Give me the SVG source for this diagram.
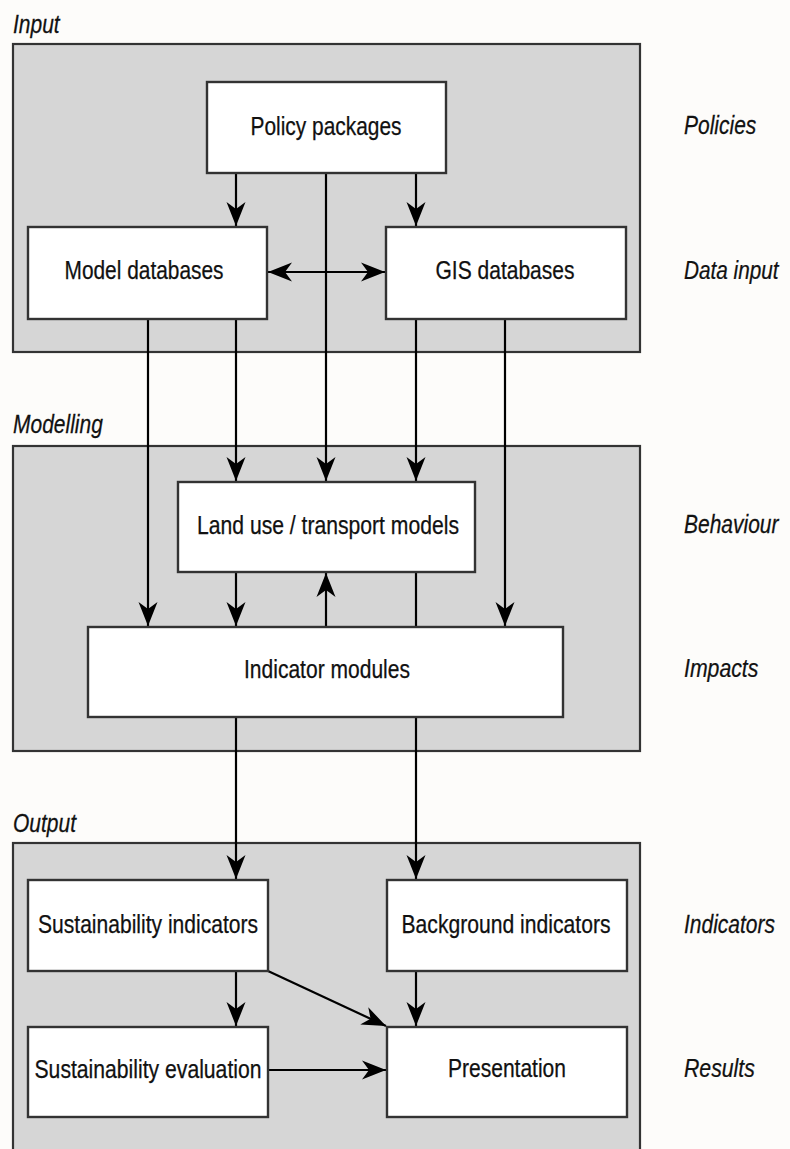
<svg xmlns="http://www.w3.org/2000/svg" width="790" height="1149" viewBox="0 0 790 1149">
  <style>
    .panel { fill: #d6d6d6; stroke: #333333; stroke-width: 2.2; }
    .box { fill: #ffffff; stroke: #333333; stroke-width: 2.4; }
    .lbl { font-family: "Liberation Sans", Arial, sans-serif; font-size: 25px; fill: #111111; stroke: #111111; stroke-width: 0.25; }
    .side { font-family: "Liberation Sans", Arial, sans-serif; font-size: 25px; font-style: italic; fill: #111111; stroke: #111111; stroke-width: 0.25; }
    .conn { fill: none; stroke: #000; stroke-width: 2.2; }
  </style>
  <defs>
    <marker id="arrow" markerUnits="userSpaceOnUse" markerWidth="25" markerHeight="20" refX="24" refY="9.5" orient="auto-start-reverse" viewBox="0 0 25 19">
      <path d="M0,0 L24,9.5 L0,19 L7,9.5 Z" fill="#000"/>
    </marker>
  </defs>

  <rect width="790" height="1149" fill="#fdfcfa"/>

  <!-- stage panels -->
  <g id="panel-input">
    <rect class="panel" x="13" y="44" width="627" height="308"/>
    <text class="side" transform="translate(13,33) scale(0.84,1)">Input</text>
  </g>
  <g id="panel-modelling">
    <rect class="panel" x="13" y="446" width="627" height="305"/>
    <text class="side" transform="translate(13,433) scale(0.84,1)">Modelling</text>
  </g>
  <g id="panel-output">
    <rect class="panel" x="13" y="843" width="627" height="320"/>
    <text class="side" transform="translate(13,832) scale(0.84,1)">Output</text>
  </g>

  <!-- connectors -->
  <g id="connectors">
    <line class="conn" x1="236" y1="173" x2="236" y2="226" marker-end="url(#arrow)"/>
    <line class="conn" x1="416" y1="173" x2="416" y2="226" marker-end="url(#arrow)"/>
    <line class="conn" x1="326" y1="173" x2="326" y2="481" marker-end="url(#arrow)"/>
    <line class="conn" x1="268" y1="272" x2="385" y2="272" marker-start="url(#arrow)" marker-end="url(#arrow)"/>
    <line class="conn" x1="148" y1="319" x2="148" y2="626" marker-end="url(#arrow)"/>
    <line class="conn" x1="236" y1="319" x2="236" y2="481" marker-end="url(#arrow)"/>
    <line class="conn" x1="416" y1="319" x2="416" y2="481" marker-end="url(#arrow)"/>
    <line class="conn" x1="505" y1="319" x2="505" y2="626" marker-end="url(#arrow)"/>
    <line class="conn" x1="236" y1="572" x2="236" y2="626" marker-end="url(#arrow)"/>
    <line class="conn" x1="326" y1="627" x2="326" y2="573" marker-end="url(#arrow)"/>
    <line class="conn" x1="416" y1="572" x2="416" y2="627"/>
    <line class="conn" x1="236" y1="717" x2="236" y2="879" marker-end="url(#arrow)"/>
    <line class="conn" x1="416" y1="717" x2="416" y2="879" marker-end="url(#arrow)"/>
    <line class="conn" x1="236" y1="971" x2="236" y2="1026" marker-end="url(#arrow)"/>
    <line class="conn" x1="268" y1="971" x2="386" y2="1026" marker-end="url(#arrow)"/>
    <line class="conn" x1="416" y1="971" x2="416" y2="1026" marker-end="url(#arrow)"/>
    <line class="conn" x1="268" y1="1070" x2="386" y2="1070" marker-end="url(#arrow)"/>
  </g>

  <!-- nodes -->
  <g id="policy-packages">
    <rect class="box" x="207" y="82" width="239" height="91"/>
    <text class="lbl" x="326" y="135" text-anchor="middle" textLength="151" lengthAdjust="spacingAndGlyphs">Policy packages</text>
  </g>
  <g id="model-databases">
    <rect class="box" x="28" y="227" width="239" height="92"/>
    <text class="lbl" x="144" y="279" text-anchor="middle" textLength="159" lengthAdjust="spacingAndGlyphs">Model databases</text>
  </g>
  <g id="gis-databases">
    <rect class="box" x="386" y="227" width="240" height="92"/>
    <text class="lbl" x="505" y="279" text-anchor="middle" textLength="139" lengthAdjust="spacingAndGlyphs">GIS databases</text>
  </g>
  <g id="land-use-transport-models">
    <rect class="box" x="178" y="482" width="297" height="90"/>
    <text class="lbl" x="328" y="534" text-anchor="middle" textLength="262" lengthAdjust="spacingAndGlyphs">Land use / transport models</text>
  </g>
  <g id="indicator-modules">
    <rect class="box" x="88" y="627" width="475" height="90"/>
    <text class="lbl" x="327" y="678" text-anchor="middle" textLength="166" lengthAdjust="spacingAndGlyphs">Indicator modules</text>
  </g>
  <g id="sustainability-indicators">
    <rect class="box" x="28" y="880" width="240" height="91"/>
    <text class="lbl" x="148" y="933" text-anchor="middle" textLength="220" lengthAdjust="spacingAndGlyphs">Sustainability indicators</text>
  </g>
  <g id="background-indicators">
    <rect class="box" x="387" y="880" width="240" height="91"/>
    <text class="lbl" x="506" y="933" text-anchor="middle" textLength="209" lengthAdjust="spacingAndGlyphs">Background indicators</text>
  </g>
  <g id="sustainability-evaluation">
    <rect class="box" x="28" y="1027" width="240" height="90"/>
    <text class="lbl" x="148" y="1078" text-anchor="middle" textLength="227" lengthAdjust="spacingAndGlyphs">Sustainability evaluation</text>
  </g>
  <g id="presentation">
    <rect class="box" x="387" y="1027" width="240" height="90"/>
    <text class="lbl" x="507" y="1077" text-anchor="middle" textLength="118" lengthAdjust="spacingAndGlyphs">Presentation</text>
  </g>

  <!-- level captions -->
  <g id="captions">
    <text class="side" transform="translate(684,134) scale(0.84,1)">Policies</text>
    <text class="side" transform="translate(684,279) scale(0.83,1)">Data input</text>
    <text class="side" transform="translate(684,533) scale(0.84,1)">Behaviour</text>
    <text class="side" transform="translate(684,677) scale(0.85,1)">Impacts</text>
    <text class="side" transform="translate(684,933) scale(0.84,1)">Indicators</text>
    <text class="side" transform="translate(684,1077) scale(0.85,1)">Results</text>
  </g>
</svg>
